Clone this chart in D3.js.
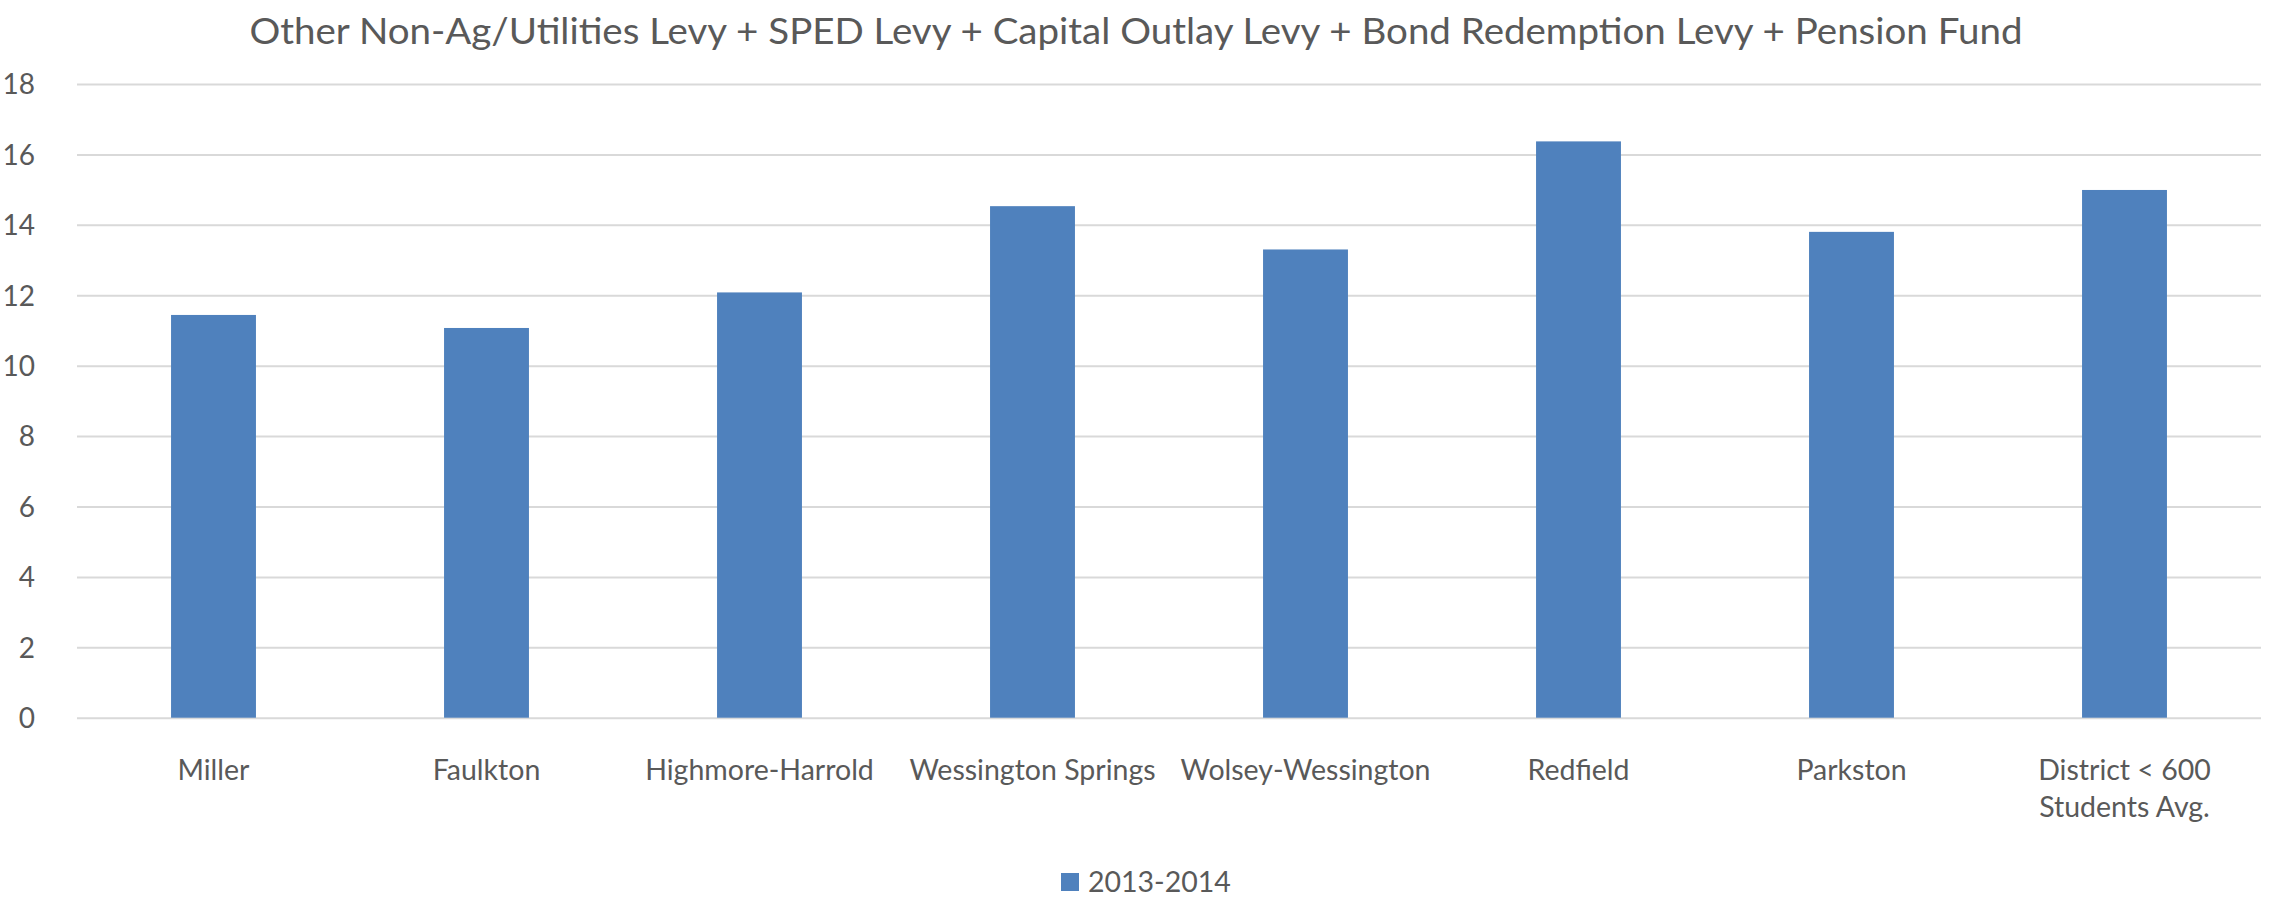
<!DOCTYPE html>
<html>
  <head>
    <script type="text/javascript" src="https://d3js.org/d3.v7.min.js"></script>
    <style>
      body { margin: 0; background: #fff; }
      text { font-family: Lato, "Open Sans", sans-serif; fill: #595959; }
    </style>
  </head>
  <body>
    <svg id="chart" width="2270" height="899"></svg>

    <script>
      // chart data
      const title = "Other Non-Ag/Utilities Levy + SPED Levy + Capital Outlay Levy + Bond Redemption Levy + Pension Fund";
      const categories = [
        "Miller",
        "Faulkton",
        "Highmore-Harrold",
        "Wessington Springs",
        "Wolsey-Wessington",
        "Redfield",
        "Parkston",
        "District < 600\nStudents Avg.",
      ];
      const values = [11.44, 11.07, 12.08, 14.53, 13.3, 16.37, 13.8, 14.99];
      const yTicks = [0, 2, 4, 6, 8, 10, 12, 14, 16, 18];
      const seriesName = "2013-2014";

      const barColor = "#4f81bd";
      const plot = { left: 77, right: 2261, top: 84, bottom: 717.7 };

      const svg = d3.select("#chart");

      // scales
      var x = d3
        .scaleBand()
        .domain(categories)
        .range([plot.left, plot.right])
        .paddingInner(0.689)
        .paddingOuter(0.3445);

      var y = d3.scaleLinear().domain([0, 18]).range([plot.bottom, plot.top]);

      // gridlines + y labels
      var yAxis = svg
        .append("g")
        .attr("transform", "translate(" + plot.left + ",0)")
        .call(
          d3
            .axisLeft(y)
            .tickValues(yTicks)
            .tickSize(-(plot.right - plot.left))
            .tickPadding(42)
        );
      yAxis.select(".domain").remove();
      yAxis.selectAll(".tick line").attr("stroke", "#d9d9d9").attr("stroke-width", 2);
      yAxis
        .selectAll(".tick text")
        .attr("font-size", 28)
        .attr("fill", "#595959")
        .attr("font-family", "Lato, sans-serif")
        .attr("dy", "0.35em");

      // bars
      svg
        .append("g")
        .selectAll("rect")
        .data(values)
        .enter()
        .append("rect")
        .attr("x", (d, i) => x(categories[i]))
        .attr("y", (d) => y(d))
        .attr("width", x.bandwidth())
        .attr("height", (d) => y(0) - y(d))
        .attr("fill", barColor);

      // category labels (multi-line where needed)
      var xLabels = svg
        .append("g")
        .selectAll("text")
        .data(categories)
        .enter()
        .append("text")
        .attr("text-anchor", "middle")
        .attr("font-size", 28.5)
        .attr("x", (d) => x(d) + x.bandwidth() / 2)
        .attr("y", 780);
      xLabels
        .selectAll("tspan")
        .data((d) => d.split("\n"))
        .enter()
        .append("tspan")
        .attr("x", function () {
          return this.parentNode.getAttribute("x");
        })
        .attr("dy", (d, i) => (i === 0 ? 0 : 37))
        .text((d) => d);

      // title
      svg
        .append("text")
        .attr("x", 1136)
        .attr("y", 44)
        .attr("text-anchor", "middle")
        .attr("font-size", 36)
        .attr("textLength", 1773)
        .attr("lengthAdjust", "spacingAndGlyphs")
        .text(title);

      // legend
      var legend = svg.append("g").attr("transform", "translate(1061,873)");
      legend.append("rect").attr("width", 18).attr("height", 18).attr("fill", barColor);
      legend
        .append("text")
        .attr("x", 27)
        .attr("y", 19)
        .attr("font-size", 28.5)
        .text(seriesName);
    </script>
  </body>
</html>
